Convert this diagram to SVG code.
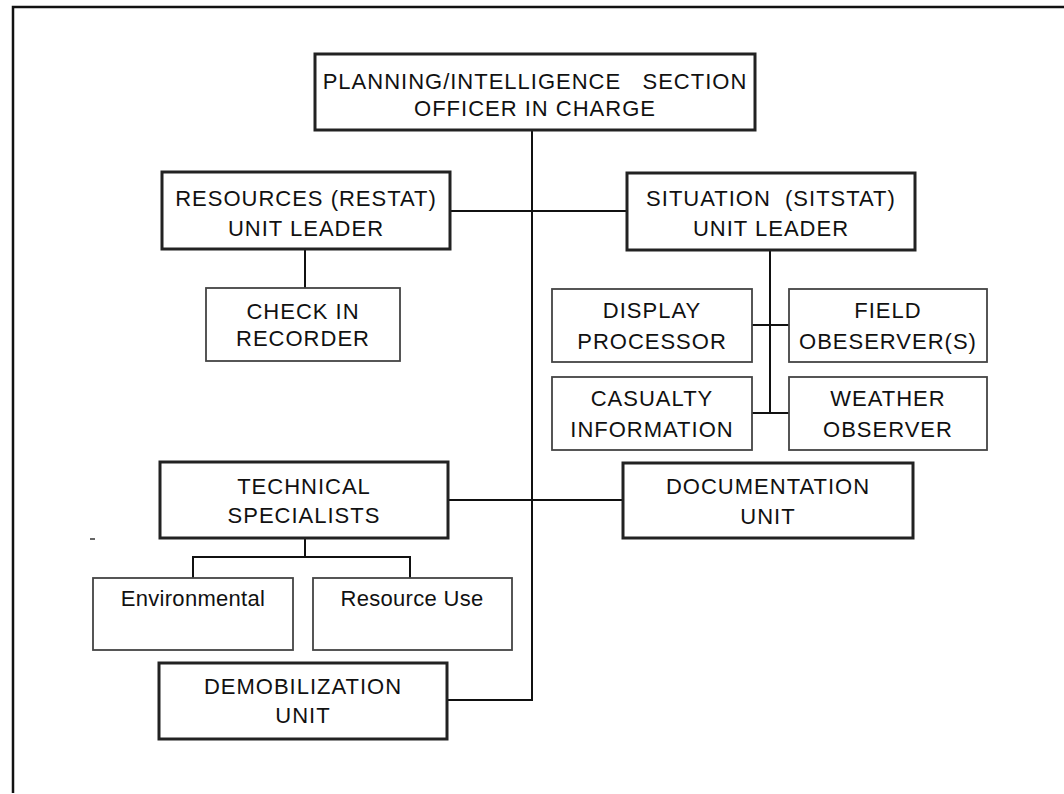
<svg xmlns="http://www.w3.org/2000/svg" width="1064" height="794" viewBox="0 0 1064 794">
<style>
.thick{fill:#fff;stroke:#222;stroke-width:3}
.thin{fill:#fff;stroke:#444;stroke-width:1.8}
.t{font-family:"Liberation Sans",Arial,sans-serif;font-size:22px;fill:#111;text-anchor:middle;letter-spacing:1px}
.c{fill:none;stroke:#111;stroke-width:2}
</style>
<rect width="1064" height="794" fill="#fff"/>
<path d="M13,793 V7 H1064" fill="none" stroke="#111" stroke-width="2.5"/>
<path d="M90,539 h5" stroke="#333" stroke-width="1.5"/>
<g id="connectors">
<path class="c" d="M532,130 V700 H447"/>
<path class="c" d="M450,211 H627"/>
<path class="c" d="M305,249 V288"/>
<path class="c" d="M770,250 V413"/>
<path class="c" d="M752,325 H789 M752,413 H789"/>
<path class="c" d="M448,500 H623"/>
<path class="c" d="M305,538 V557 M193,578 V557 H410 V578"/>
</g>
<g id="planning"><rect class="thick" x="315" y="54" width="440" height="76"/><text class="t" x="535" y="89" xml:space="preserve">PLANNING/INTELLIGENCE   SECTION</text><text class="t" x="535" y="116">OFFICER IN CHARGE</text></g>
<g id="resources"><rect class="thick" x="162" y="172" width="288" height="77"/><text class="t" x="306" y="206">RESOURCES (RESTAT)</text><text class="t" x="306" y="236">UNIT LEADER</text></g>
<g id="situation"><rect class="thick" x="627" y="173" width="288" height="77"/><text class="t" x="771" y="206" xml:space="preserve">SITUATION  (SITSTAT)</text><text class="t" x="771" y="236">UNIT LEADER</text></g>
<g id="checkin"><rect class="thin" x="206" y="288" width="194" height="73"/><text class="t" x="303" y="319">CHECK IN</text><text class="t" x="303" y="346">RECORDER</text></g>
<g id="display"><rect class="thin" x="552" y="289" width="200" height="73"/><text class="t" x="652" y="318">DISPLAY</text><text class="t" x="652" y="349">PROCESSOR</text></g>
<g id="field"><rect class="thin" x="789" y="289" width="198" height="73"/><text class="t" x="888" y="318">FIELD</text><text class="t" x="888" y="349">OBESERVER(S)</text></g>
<g id="casualty"><rect class="thin" x="552" y="377" width="200" height="73"/><text class="t" x="652" y="406">CASUALTY</text><text class="t" x="652" y="437">INFORMATION</text></g>
<g id="weather"><rect class="thin" x="789" y="377" width="198" height="73"/><text class="t" x="888" y="406">WEATHER</text><text class="t" x="888" y="437">OBSERVER</text></g>
<g id="technical"><rect class="thick" x="160" y="462" width="288" height="76"/><text class="t" x="304" y="494">TECHNICAL</text><text class="t" x="304" y="523">SPECIALISTS</text></g>
<g id="documentation"><rect class="thick" x="623" y="463" width="290" height="75"/><text class="t" x="768" y="494">DOCUMENTATION</text><text class="t" x="768" y="524">UNIT</text></g>
<g id="environmental"><rect class="thin" x="93" y="578" width="200" height="72"/><text class="t" x="193" y="606" style="letter-spacing:0.3px">Environmental</text></g>
<g id="resourceuse"><rect class="thin" x="313" y="578" width="199" height="72"/><text class="t" x="412" y="606" style="letter-spacing:0.3px">Resource Use</text></g>
<g id="demobilization"><rect class="thick" x="159" y="663" width="288" height="76"/><text class="t" x="303" y="694">DEMOBILIZATION</text><text class="t" x="303" y="723">UNIT</text></g>
</svg>
